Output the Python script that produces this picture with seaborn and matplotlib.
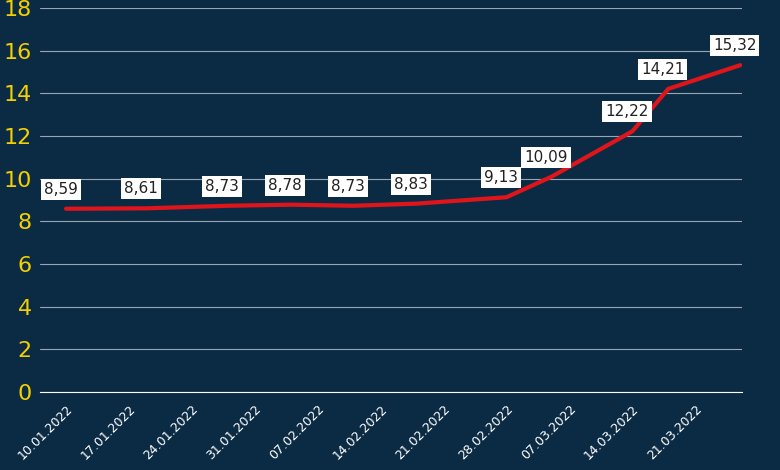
import matplotlib
matplotlib.use("Agg")
import matplotlib.pyplot as plt
import seaborn as sns
import pandas as pd
import numpy as np

day_offsets = [0, 9, 18, 25, 32, 39, 49, 54, 63, 67, 75]
values = [8.59, 8.61, 8.73, 8.78, 8.73, 8.83, 9.13, 10.09, 12.22, 14.21, 15.32]
labels = ["8,59", "8,61", "8,73", "8,78", "8,73", "8,83", "9,13", "10,09", "12,22", "14,21", "15,32"]
tick_days = [0, 7, 14, 21, 28, 35, 42, 49, 56, 63, 70]
tick_labels = ["10.01.2022", "17.01.2022", "24.01.2022", "31.01.2022", "07.02.2022", "14.02.2022",
               "21.02.2022", "28.02.2022", "07.03.2022", "14.03.2022", "21.03.2022"]

bg = "#0b2b45"
sns.set_style("white")
plt.rcParams["font.family"] = ["DejaVu Sans"]
fig = plt.figure(figsize=(7.8, 4.7), dpi=100, facecolor=bg)
ax = fig.add_axes([40/780, 78/470, 702/780, 384/470])
ax.set_facecolor(bg)
df = pd.DataFrame({"d": day_offsets, "v": values})
sns.lineplot(data=df, x="d", y="v", ax=ax, color="#e0151b", linewidth=3)
ax.set_xlim(-2.9, 75.2)
ax.set_ylim(0, 18)
ax.set_yticks(range(0, 19, 2))
ax.yaxis.grid(True, color="#9aa5b0", linewidth=0.8)
ax.set_axisbelow(True)
ax.set_xticks(tick_days)
ax.set_xticklabels(tick_labels, rotation=45, ha="right", rotation_mode="anchor", color="white", fontsize=9)
ax.tick_params(axis="y", colors="#f5d000", labelsize=16, length=0, pad=6)
ax.tick_params(axis="x", length=4, color="white")
for s in ["top", "right", "left"]:
    ax.spines[s].set_visible(False)
ax.spines["bottom"].set_color("white")
ax.set_xlabel(""); ax.set_ylabel("")
for d, v, t in zip(day_offsets, values, labels):
    ax.annotate(t, (d, v), xytext=(-4, 14), textcoords="offset points", ha="center", va="center",
                fontsize=11, color="#222222", annotation_clip=False,
                bbox=dict(boxstyle="square,pad=0.2", fc="white", ec="none"))
fig.savefig("out.png", facecolor=bg)
